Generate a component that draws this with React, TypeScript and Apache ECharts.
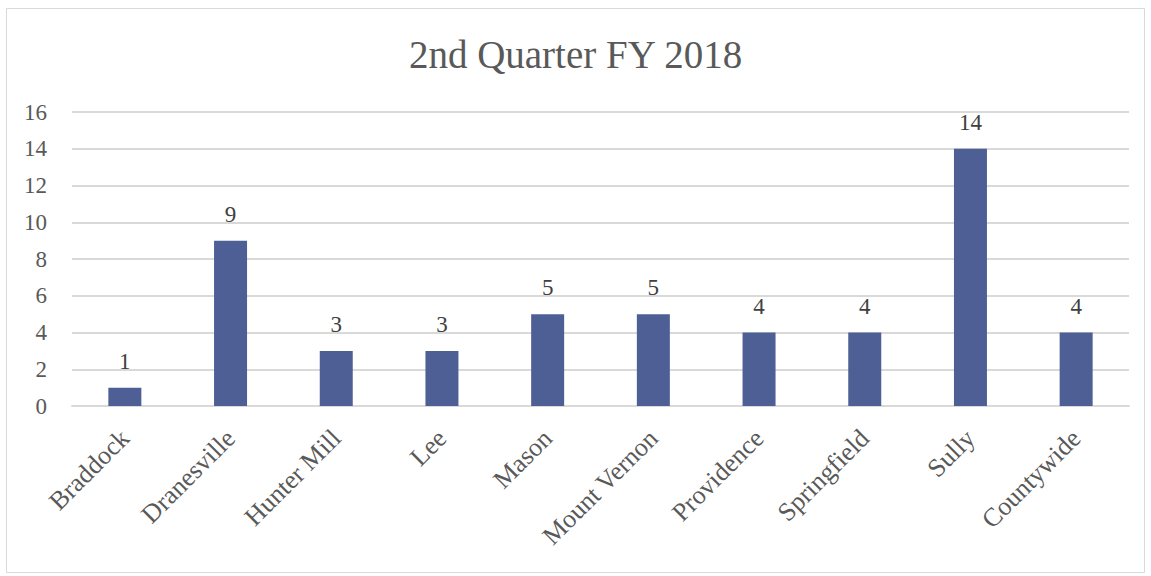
import React, { useEffect, useRef } from "react";
import * as echarts from "echarts";

const categories = ["Braddock", "Dranesville", "Hunter Mill", "Lee", "Mason", "Mount Vernon", "Providence", "Springfield", "Sully", "Countywide"];
const values = [1, 9, 3, 3, 5, 5, 4, 4, 14, 4];
const titleText = "2nd Quarter FY 2018";

const FONT = "'Liberation Serif', 'DejaVu Serif', serif";

export default function App() {
  const ref = useRef<HTMLDivElement>(null);
  useEffect(() => {
    const chart = echarts.init(ref.current!, null, { renderer: "svg" });
    chart.setOption({
      animation: false,
      backgroundColor: "#ffffff",
      title: {
        text: titleText,
        left: "center",
        top: 30,
        textStyle: { fontFamily: FONT, fontSize: 39, fontWeight: "normal", color: "#595959" },
      },
      graphic: [
        {
          type: "rect",
          shape: { x: 6.5, y: 8.5, width: 1138, height: 564 },
          style: { fill: "none", stroke: "#d9d9d9", lineWidth: 1 },
          silent: true,
        },
      ],
      grid: { left: 72, right: 22, top: 112, bottom: 170 },
      xAxis: {
        type: "category",
        data: categories,
        axisLine: { lineStyle: { color: "#d9d9d9", width: 2 } },
        axisTick: { show: false },
        axisLabel: {
          rotate: 45,
          interval: 0,
          margin: 28,
          fontFamily: FONT,
          fontSize: 26,
          color: "#595959",
        },
      },
      yAxis: {
        type: "value",
        min: 0,
        max: 16,
        interval: 2,
        axisLine: { show: false },
        axisTick: { show: false },
        splitLine: { lineStyle: { color: "#d9d9d9", width: 2 } },
        axisLabel: { margin: 25, fontFamily: FONT, fontSize: 23, color: "#595959" },
      },
      series: [
        {
          type: "bar",
          data: values,
          barWidth: 33,
          itemStyle: { color: "#4e5f96" },
          label: {
            show: true,
            position: "top",
            distance: 15,
            fontFamily: FONT,
            fontSize: 23,
            color: "#404040",
          },
        },
      ],
    });
    return () => chart.dispose();
  }, []);
  return <div ref={ref} style={{ position: "fixed", left: 0, top: 0, width: 1151, height: 576 }} />;
}
